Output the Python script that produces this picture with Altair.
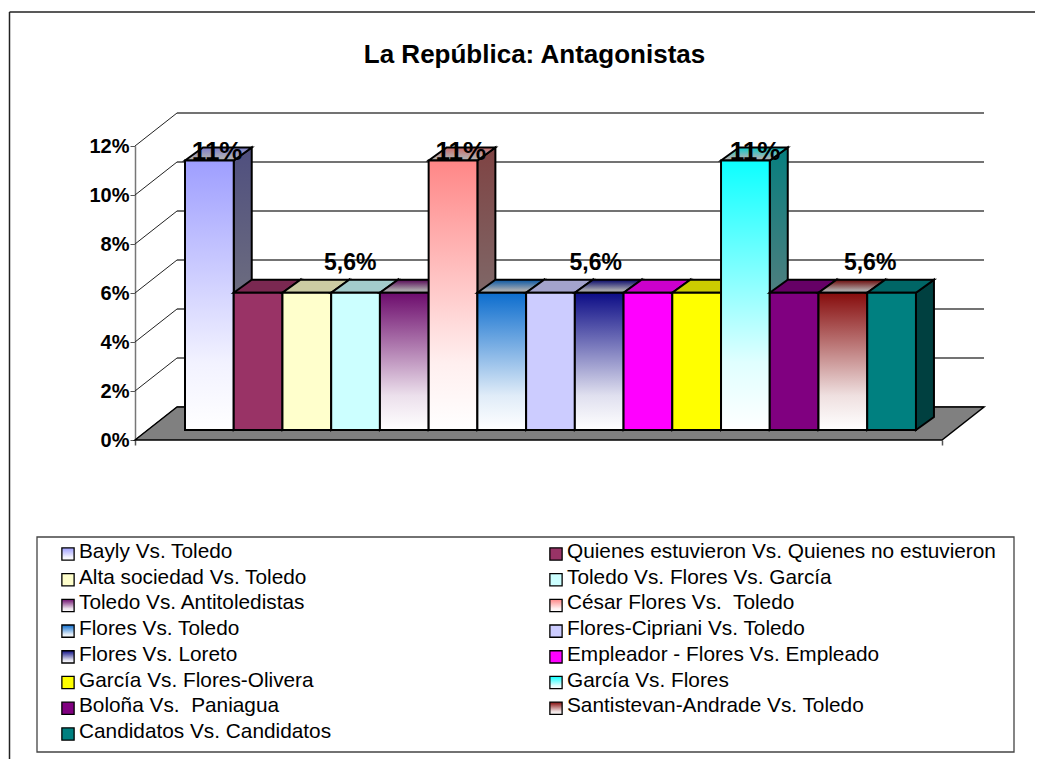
import altair as alt
import pandas as pd

TITLE = "La República: Antagonistas"
names = ["Bayly Vs. Toledo", "Quienes estuvieron Vs. Quienes no estuvieron", "Alta sociedad Vs. Toledo",
         "Toledo Vs. Flores Vs. García", "Toledo Vs. Antitoledistas", "César Flores Vs.\u00a0 Toledo",
         "Flores Vs. Toledo", "Flores-Cipriani Vs. Toledo", "Flores Vs. Loreto",
         "Empleador - Flores Vs. Empleado", "García Vs. Flores-Olivera", "García Vs. Flores",
         "Boloña Vs.\u00a0 Paniagua", "Santistevan-Andrade Vs. Toledo", "Candidatos Vs. Candidatos"]
values = [11, 5.6, 5.6, 5.6, 5.6, 11, 5.6, 5.6, 5.6, 5.6, 5.6, 11, 5.6, 5.6, 5.6]
colors = ["#9999ff", "#993366", "#ffffcc", "#ccffff", "#660066", "#ff8080", "#0066cc", "#ccccff",
          "#000080", "#ff00ff", "#ffff00", "#00ffff", "#800080", "#800000", "#008080"]
fades = [True, False, False, False, True, True, True, False, True, False, False, True, False, True, False]
label_bars = [0, 3, 5, 8, 11, 13]
y_ticks = [0, 2, 4, 6, 8, 10, 12]

# Layout (page pixels minus the 8px margin)
M = 8
W, H = 1027, 751
FONT = "Liberation Sans"
BX0, UX = 185, 48.73   # left of first bar, width of a bar
BY0, UY = 430, 24.5    # bar baseline, px per 1%
xs = alt.Scale(domain=[0, 15], range=[BX0 - M, BX0 - M + 15 * UX], nice=False, zero=False)
ys = alt.Scale(domain=[0, 12], range=[BY0 - M, BY0 - M - 12 * UY], nice=False, zero=False)
DX, DY = 18 / UX, 13 / UY                # bar depth
WX, WY = 42 / UX, 33 / UY                # floor depth
FX0, FX1 = (135 - BX0) / UX, (942 - BX0) / UX  # floor front corners
FY = -10 / UY                            # floor front level


def X(f="x"):
    return alt.X(f"{f}:Q", scale=xs, axis=None)


def Y(f="y"):
    return alt.Y(f"{f}:Q", scale=ys, axis=None)


def shade(c, k, mix=0.0, end=1.0):
    r, g, b = (int(c[i:i + 2], 16) for i in (1, 3, 5))
    w = 255 * end
    return "#%02x%02x%02x" % tuple(int(ch * k * (1 - mix) + w * mix) for ch in (r, g, b))


def paint(c, fade, k=1.0, end=None):
    if not fade:
        return shade(c, k)
    e = k if end is None else end
    return alt.LinearGradient(gradient="linear", x1=0, y1=0, x2=0, y2=1,
                              stops=[alt.GradientStop(color=shade(c, k, t, e), offset=o)
                                     for o, t in ((0, 0.05), (0.5, 0.6), (0.75, 0.88), (1, 1))])


layers = []

# outer frame: runs off the page on the right and at the bottom
frame_x = alt.Scale(domain=[0, 1], range=[1.5, W])
frame_y = alt.Scale(domain=[0, 1], range=[4, H])
layers.append(alt.Chart(pd.DataFrame({"a": [0], "b": [1], "c": [0]})).mark_rule(color="#222222", strokeWidth=1.5).encode(
    x=alt.X("a:Q", scale=frame_x, axis=None), x2="b:Q", y=alt.Y("c:Q", scale=frame_y, axis=None)))
layers.append(alt.Chart(pd.DataFrame({"a": [0], "b": [1], "c": [0]})).mark_rule(color="#222222", strokeWidth=1.5).encode(
    y=alt.Y("a:Q", scale=frame_y, axis=None), y2="b:Q", x=alt.X("c:Q", scale=frame_x, axis=None)))

# title
layers.append(alt.Chart(pd.DataFrame({"t": [TITLE], "x": [0.5], "y": [0.5]})).mark_text(
    font=FONT, fontWeight="bold", fontSize=26, color="black", baseline="middle", align="center").encode(
    x=alt.X("x:Q", scale=alt.Scale(domain=[0, 1], range=[534.5 - M, 534.5 - M]), axis=None),
    y=alt.Y("y:Q", scale=alt.Scale(domain=[0, 1], range=[55 - M, 55 - M]), axis=None),
    text="t:N"))

# back wall gridlines and left wall diagonals
back = pd.DataFrame({"x": [FX0 + WX] * len(y_ticks), "x2": [FX1 + WX] * len(y_ticks),
                     "y": [v + FY + WY for v in y_ticks]})
layers.append(alt.Chart(back).mark_rule(color="#444444", strokeWidth=1.4).encode(x=X(), x2="x2:Q", y=Y()))
diag = pd.DataFrame([{"v": v, "x": FX0 + t * WX, "y": v + FY + t * WY} for v in y_ticks for t in (0, 1)])
layers.append(alt.Chart(diag).mark_line(color="#222222", strokeWidth=1).encode(x=X(), y=Y(), detail="v:N"))

# floor
floor = pd.DataFrame({"x": [FX0, FX0 + WX, FX1, FX1 + WX],
                      "y": [FY, FY + WY, FY + WY, FY + WY],
                      "y2": [FY, FY, FY, FY + WY]})
layers.append(alt.Chart(floor).mark_area(color="#808080", stroke="black", strokeWidth=1.5).encode(x=X(), y=Y(), y2="y2:Q"))

# axes
axis_df = pd.DataFrame({"x": [0, 1], "y": [0, 12]})
layers.append(alt.Chart(axis_df).mark_point(opacity=0).encode(
    x=alt.X("x:Q", scale=alt.Scale(domain=[0, 1], range=[135 - M, 942 - M], nice=False, zero=False),
            axis=alt.Axis(orient="bottom", values=[0, 1], labels=False, domain=False, grid=False, title=None,
                          tickSize=5, tickColor="#555555", tickWidth=1.5, offset=440 - M - H)),
    y=alt.Y("y:Q", scale=alt.Scale(domain=[0, 12], range=[440 - M, 146 - M], nice=False, zero=False),
            axis=alt.Axis(orient="left", values=y_ticks, labelExpr="datum.value + '%'", grid=False, title=None,
                          domainColor="#777777", domainWidth=1.5, tickColor="#555555", tickSize=5, tickWidth=1,
                          labelFont=FONT, labelFontWeight="bold", labelFontSize=20, labelColor="black",
                          labelPadding=1, offset=-(135 - M)))))

# bars
for i, (v, c, f) in enumerate(zip(values, colors, fades)):
    side = pd.DataFrame({"x": [i + 1, i + 1 + DX], "y": [0, DY], "y2": [v, v + DY]})
    layers.append(alt.Chart(side).mark_area(fill=paint(c, f, 0.5), stroke="black", strokeWidth=2).encode(
        x=X(), y=Y(), y2="y2:Q"))
    top = pd.DataFrame({"x": [i, i + DX, i + 1, i + 1 + DX],
                        "y": [v, v + DY, v + DY, v + DY],
                        "y2": [v, v, v, v + DY]})
    layers.append(alt.Chart(top).mark_area(fill=paint(c, f, 0.8, 0.7), stroke="black", strokeWidth=2).encode(
        x=X(), y=Y(), y2="y2:Q"))
    front = pd.DataFrame({"x": [i], "x2": [i + 1], "y": [0], "y2": [v]})
    layers.append(alt.Chart(front).mark_rect(fill=paint(c, f), stroke="black", strokeWidth=2).encode(
        x=X(), x2="x2:Q", y=Y(), y2="y2:Q"))

# data labels
label_dx = {0: 0.66, 3: 0.39, 5: 0.66, 8: 0.43, 11: 0.70, 13: 1.06}
labels = pd.DataFrame({"x": [b + label_dx[b] for b in label_bars],
                       "y": [values[b] for b in label_bars],
                       "t": [f"{values[b]:g}%".replace(".", ",") for b in label_bars]})
for tall, dy in ((True, -1), (False, -23)):
    sub = labels[(labels.y > 8) == tall]
    layers.append(alt.Chart(sub).mark_text(font=FONT, fontWeight="bold", fontSize=26 if tall else 23, color="black",
                                           baseline="alphabetic", align="center", dy=dy).encode(
        x=X(), y=Y(), text="t:N"))

# legend box
box_x = alt.Scale(domain=[0, 1], range=[37 - M, 1014 - M], nice=False, zero=False)
box_y = alt.Scale(domain=[0, 1], range=[537 - M, 752 - M], nice=False, zero=False)
layers.append(alt.Chart(pd.DataFrame({"a": [0], "a2": [1], "b": [0], "b2": [1]})).mark_rect(
    fill="white", stroke="#444444", strokeWidth=1.3).encode(
    x=alt.X("a:Q", scale=box_x, axis=None), x2="a2:Q", y=alt.Y("b:Q", scale=box_y, axis=None), y2="b2:Q"))

leg_x = alt.Scale(domain=[0, 1], range=[79 - M, 567 - M], nice=False, zero=False)
leg_y = alt.Scale(domain=[0, 7], range=[552 - M, 732 - M], nice=False, zero=False)
for i, (n, c, f) in enumerate(zip(names, colors, fades)):
    d = pd.DataFrame({"col": [i % 2], "row": [i // 2], "t": [n]})
    enc = dict(x=alt.X("col:Q", scale=leg_x, axis=None), y=alt.Y("row:Q", scale=leg_y, axis=None))
    layers.append(alt.Chart(d).mark_point(shape="square", filled=True, fill=paint(c, f), stroke="black",
                                          strokeWidth=1.3, opacity=1, size=150, xOffset=-11, yOffset=2).encode(**enc))
    layers.append(alt.Chart(d).mark_text(font=FONT, fontSize=20.8, color="black", align="left",
                                         baseline="middle").encode(text="t:N", **enc))

chart = alt.layer(*layers).resolve_scale(x="independent", y="independent").properties(
    width=W, height=H, padding=0,
    autosize=alt.AutoSizeParams(type="none", contains="content")
).configure_view(stroke=None)

chart.save("out.html", embed_options={"renderer": "svg", "actions": False})
